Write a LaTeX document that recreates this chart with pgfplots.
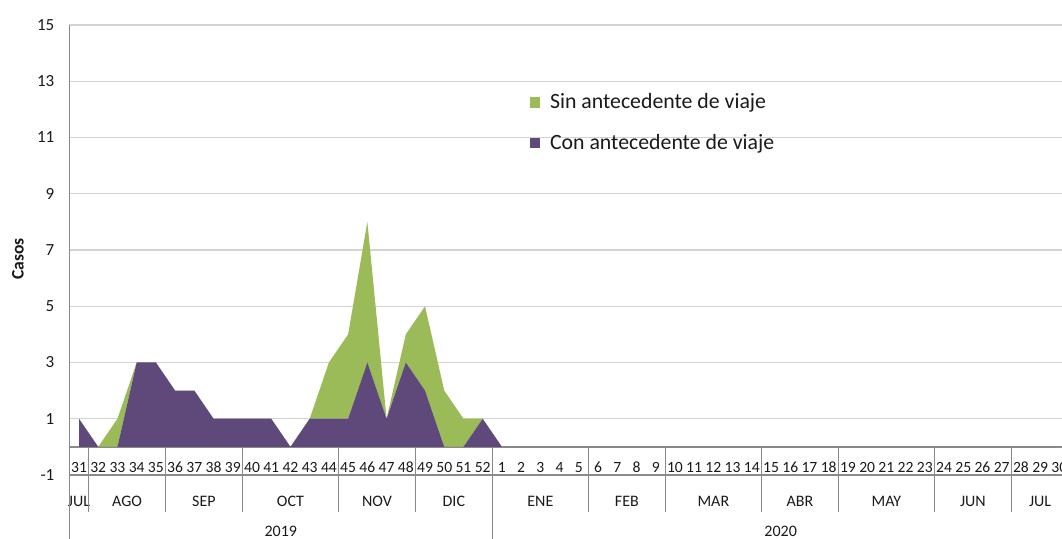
\documentclass[border=0pt]{standalone}
\usepackage{pgfplots}
\pgfplotsset{compat=1.18}
\usepackage{fontspec}
\setmainfont{Carlito}
\definecolor{conc}{HTML}{5F497A}
\definecolor{sinc}{HTML}{9BBB59}
\definecolor{gridc}{HTML}{D3D3D3}
\definecolor{axc}{HTML}{8A8A8A}
\definecolor{txt}{HTML}{1A1A1A}
\tikzset{mlab/.style={anchor=base, font=\fontsize{8}{10}\selectfont, text=txt, inner sep=0pt},
  sep/.style={axc, line width=0.6pt}}
\begin{document}
\begin{tikzpicture}
\useasboundingbox (-34.7pt,-32pt) rectangle (496.3pt,237.5pt);
\begin{axis}[
  scale only axis, width=499.8pt, height=225pt,
  xmin=-0.5, xmax=51.5, ymin=-1, ymax=15,
  clip=false,
  ytick={-1,1,3,5,7,9,11,13,15},
  ymajorgrids, grid style={gridc, line width=0.6pt},
  axis line style={draw=none},
  tick style={draw=none},
  xtick={0,...,51},
  xticklabels={31,32,33,34,35,36,37,38,39,40,41,42,43,44,45,46,47,48,49,50,51,52,1,2,3,4,5,6,7,8,9,10,11,12,13,14,15,16,17,18,19,20,21,22,23,24,25,26,27,28,29,30},
  xticklabel style={anchor=base, yshift=1pt, font=\fontsize{7.8}{9}\selectfont, text=txt},
  yticklabel style={font=\fontsize{8.5}{10}\selectfont, text=txt, xshift=-4pt},
  /pgf/number format/assume math mode=true,
  ylabel={Casos},
  every axis y label/.style={at={(axis description cs:0,0.48)}, xshift=-25.7pt, rotate=90, anchor=center,
    font=\bfseries\fontsize{8.8}{10}\selectfont, text=txt},
  stack plots=y,
  reverse legend,
  legend cell align=left,
  legend style={draw=none, fill=none, at={(axis description cs:0.460,0.857)}, anchor=north west,
    font=\fontsize{10.9}{13}\selectfont, text=txt, row sep=7pt, inner sep=0pt},
  legend image code/.code={\fill[#1] (0pt,-2.7pt) rectangle (5.4pt,2.7pt); \path (8.2pt,0pt);},
]
\addplot[draw=none, fill=conc] coordinates {
(0,1) (1,0) (2,0) (3,3) (4,3) (5,2) (6,2) (7,1) (8,1) (9,1) (10,1) (11,0) (12,1) (13,1) (14,1) (15,3) (16,1) (17,3) (18,2) (19,0) (20,0) (21,1)
(22,0) (23,0) (24,0) (25,0) (26,0) (27,0) (28,0) (29,0) (30,0) (31,0) (32,0) (33,0) (34,0) (35,0) (36,0) (37,0) (38,0) (39,0) (40,0) (41,0) (42,0) (43,0) (44,0) (45,0) (46,0) (47,0) (48,0) (49,0) (50,0) (51,0)
} \closedcycle;
\addlegendentry{Con antecedente de viaje}
\addplot[draw=none, fill=sinc] coordinates {
(0,0) (1,0) (2,1) (3,0) (4,0) (5,0) (6,0) (7,0) (8,0) (9,0) (10,0) (11,0) (12,0) (13,2) (14,3) (15,5) (16,0) (17,1) (18,3) (19,2) (20,1) (21,0)
(22,0) (23,0) (24,0) (25,0) (26,0) (27,0) (28,0) (29,0) (30,0) (31,0) (32,0) (33,0) (34,0) (35,0) (36,0) (37,0) (38,0) (39,0) (40,0) (41,0) (42,0) (43,0) (44,0) (45,0) (46,0) (47,0) (48,0) (49,0) (50,0) (51,0)
} \closedcycle;
\addlegendentry{Sin antecedente de viaje}
\draw[axc, line width=0.7pt] (axis cs:-0.5,15) -- ([yshift=-32pt]axis cs:-0.5,-1);
\draw[axc, line width=0.7pt] (axis cs:-0.5,0) -- (axis cs:51.5,0);
\draw[sep] (axis cs:-0.5,-1) -- (axis cs:51.5,-1);
\draw[sep] (axis cs:0.5,0) -- ([yshift=-18.5pt]axis cs:0.5,-1);
\draw[sep] (axis cs:4.5,0) -- ([yshift=-18.5pt]axis cs:4.5,-1);
\draw[sep] (axis cs:8.5,0) -- ([yshift=-18.5pt]axis cs:8.5,-1);
\draw[sep] (axis cs:13.5,0) -- ([yshift=-18.5pt]axis cs:13.5,-1);
\draw[sep] (axis cs:17.5,0) -- ([yshift=-18.5pt]axis cs:17.5,-1);
\draw[sep] (axis cs:26.5,0) -- ([yshift=-18.5pt]axis cs:26.5,-1);
\draw[sep] (axis cs:30.5,0) -- ([yshift=-18.5pt]axis cs:30.5,-1);
\draw[sep] (axis cs:35.5,0) -- ([yshift=-18.5pt]axis cs:35.5,-1);
\draw[sep] (axis cs:39.5,0) -- ([yshift=-18.5pt]axis cs:39.5,-1);
\draw[sep] (axis cs:44.5,0) -- ([yshift=-18.5pt]axis cs:44.5,-1);
\draw[sep] (axis cs:48.5,0) -- ([yshift=-18.5pt]axis cs:48.5,-1);
\draw[sep] (axis cs:21.5,0) -- ([yshift=-32pt]axis cs:21.5,-1);
\node[mlab] at ([yshift=-15.8pt]axis cs:0,-1) {JUL};
\node[mlab] at ([yshift=-15.8pt]axis cs:2.5,-1) {AGO};
\node[mlab] at ([yshift=-15.8pt]axis cs:6.5,-1) {SEP};
\node[mlab] at ([yshift=-15.8pt]axis cs:11,-1) {OCT};
\node[mlab] at ([yshift=-15.8pt]axis cs:15.5,-1) {NOV};
\node[mlab] at ([yshift=-15.8pt]axis cs:19.5,-1) {DIC};
\node[mlab] at ([yshift=-15.8pt]axis cs:24,-1) {ENE};
\node[mlab] at ([yshift=-15.8pt]axis cs:28.5,-1) {FEB};
\node[mlab] at ([yshift=-15.8pt]axis cs:33,-1) {MAR};
\node[mlab] at ([yshift=-15.8pt]axis cs:37.5,-1) {ABR};
\node[mlab] at ([yshift=-15.8pt]axis cs:42,-1) {MAY};
\node[mlab] at ([yshift=-15.8pt]axis cs:46.5,-1) {JUN};
\node[mlab] at ([yshift=-15.8pt]axis cs:50,-1) {JUL};
\node[mlab] at ([yshift=-30.8pt]axis cs:10.5,-1) {2019};
\node[mlab] at ([yshift=-30.8pt]axis cs:36.5,-1) {2020};
\end{axis}
\end{tikzpicture}
\end{document}
